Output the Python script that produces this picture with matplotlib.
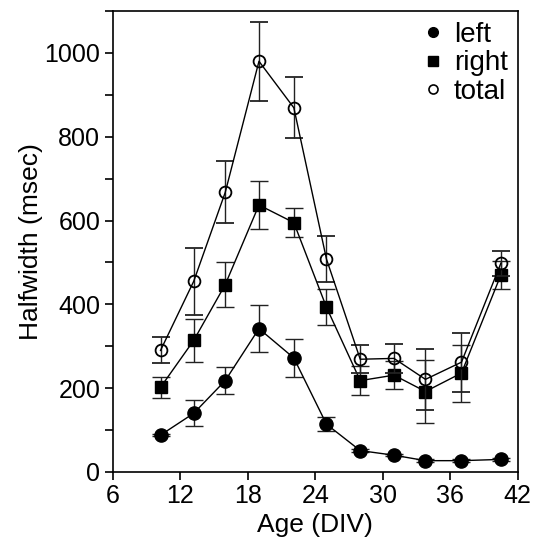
import matplotlib
matplotlib.use("Agg")
import matplotlib.pyplot as plt
from matplotlib.lines import Line2D
from matplotlib.ticker import MultipleLocator

plt.rcParams['font.family'] = ['Liberation Sans', 'DejaVu Sans']

# Edad (DIV) de cada punto
edad = [10.25, 13.2, 16.0, 19.0, 22.1, 25.0, 28.0, 31.0, 33.8, 37.0, 40.5]

# Halfwidth medio y error de cada serie
izq = [88, 140, 218, 342, 272, 114, 51, 40, 27, 27, 30]
izq_err = [3, 31, 32, 56, 46, 16, 3, 3, 3, 3, 3]

der = [202, 314, 447, 637, 595, 393, 218, 231, 192, 236, 470]
der_err = [25, 52, 53, 57, 35, 43, 35, 33, 75, 68, 33]

total = [290, 455, 667, 980, 869, 508, 269, 271, 221, 262, 498]
total_err = [31, 80, 74, 94, 73, 55, 33, 35, 72, 70, 30]

fig = plt.figure(figsize=(5.36, 5.49), dpi=100)
ax = fig.add_axes([0.2103, 0.1403, 0.7556, 0.8397])

estilo_err = dict(ecolor="#222222", elinewidth=1.0, capsize=6.5, capthick=1.0)

ax.errorbar(edad, izq, yerr=izq_err, color="black", lw=1.0, marker="o",
            ms=9.5, mfc="black", mec="black", **estilo_err, zorder=3)
ax.errorbar(edad, der, yerr=der_err, color="black", lw=1.0, marker="s",
            ms=8.5, mfc="black", mec="black", **estilo_err, zorder=3)
ax.errorbar(edad, total, yerr=total_err, color="black", lw=1.0, marker="o",
            ms=8.5, mfc="none", mec="black", mew=1.3, **estilo_err, zorder=4)

# Ejes
ax.set_xlim(6, 42)
ax.set_ylim(0, 1100)
ax.set_xticks(range(6, 43, 6))
ax.set_yticks(range(0, 1001, 200))
ax.yaxis.set_minor_locator(MultipleLocator(100))
ax.tick_params(which="both", direction="out", length=5.5, width=1.2,
               labelsize=18, top=False, right=False)
for s in ax.spines.values():
    s.set_linewidth(1.2)

ax.set_xlabel("Age (DIV)", fontsize=19, labelpad=3)
ax.set_ylabel("Halfwidth (msec)", fontsize=19, labelpad=1)

# Leyenda con marcadores pequeños
handles = [
    Line2D([], [], ls="none", marker="o", ms=7, mfc="black", mec="black"),
    Line2D([], [], ls="none", marker="s", ms=6.5, mfc="black", mec="black"),
    Line2D([], [], ls="none", marker="o", ms=6.5, mfc="none", mec="black", mew=1.2),
]
ax.legend(handles, ["left", "right", "total"], loc="upper right", frameon=False,
          fontsize=20, handlelength=0.6, handletextpad=0.45, labelspacing=0.1,
          borderaxespad=0, borderpad=0, bbox_to_anchor=(0.975, 0.977))

fig.savefig("out.png", dpi=100)
